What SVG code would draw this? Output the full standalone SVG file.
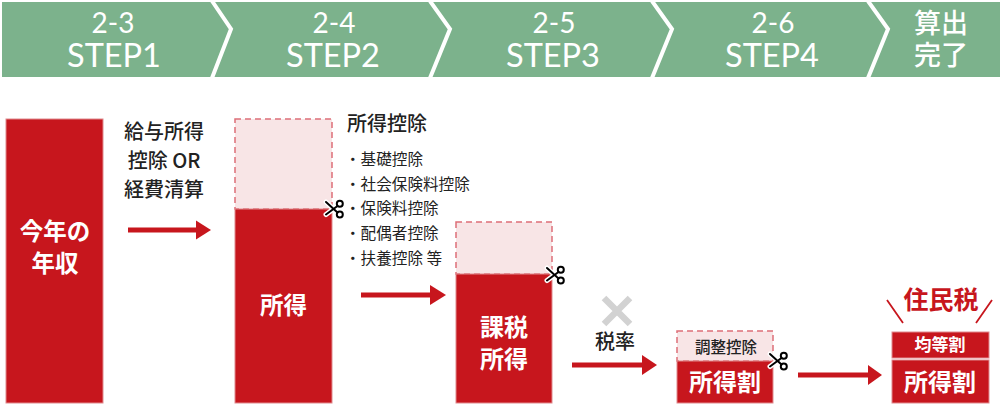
<svg xmlns="http://www.w3.org/2000/svg" width="1000" height="404" viewBox="0 0 1000 404">
  <style>
    text { font-family: "Noto Sans CJK JP", "Noto Sans", sans-serif; }
    .num { font-family: "Lato", sans-serif; font-size: 28px; fill: #fff; text-anchor: middle; }
    .step { font-family: "Lato", sans-serif; font-size: 32.500px; fill: #fff; text-anchor: middle; }
    .stepj { font-size: 27px; font-weight: 500; fill: #fff; text-anchor: middle; }
    .lab { font-size: 20px; fill: #222; text-anchor: middle; font-weight: 500; }
    .item { font-size: 15.6px; fill: #222; }
    .inv { font-weight: 700; fill: #fff; text-anchor: middle; }
    .red { fill: #c7161d; stroke: #e08a8e; stroke-width: 1; }
    .pale { fill: #f8e5e6; stroke: #dd6f78; stroke-width: 1.5; stroke-dasharray: 6 4; }
    .chev { fill: none; stroke: #fff; stroke-width: 4; }
    .link { stroke: #c7161d; stroke-width: 5; fill: none; }
    .head { fill: #c7161d; }
  </style>
  <defs>
    <!-- scissors: two blades crossing at the pivot, handles on the right -->
    <g id="scissors">
      <g fill="none" stroke="#fff" stroke-width="5" stroke-linecap="round">
        <path d="M-7 5.500L4.500 -3M-7 -7L4.500 3.500" />
        <circle cx="6.800" cy="-5.200" r="3" />
        <circle cx="6.800" cy="5.600" r="3" />
      </g>
      <g fill="none" stroke="#000" stroke-width="2" stroke-linecap="round">
        <path d="M-7 5.500L4.500 -3M-7 -7L4.500 3.500" />
        <circle cx="6.800" cy="-5.200" r="3" />
        <circle cx="6.800" cy="5.600" r="3" />
      </g>
    </g>
  </defs>

  <g id="step-banner">
    <rect x="2" y="2" width="998" height="75" fill="#7cb28c" />
    <path class="chev" d="M212 1L231 29L212 78" />
    <path class="chev" d="M430 1L450 29L430 78" />
    <path class="chev" d="M652 1L672 29L652 78" />
    <path class="chev" d="M868 1L888 29L868 78" />
    <text class="num" x="113" y="33">2-3</text>
    <text class="step" x="114" y="67">STEP1</text>
    <text class="num" x="334" y="33">2-4</text>
    <text class="step" x="333" y="67">STEP2</text>
    <text class="num" x="554" y="33">2-5</text>
    <text class="step" x="553" y="67">STEP3</text>
    <text class="num" x="773" y="33">2-6</text>
    <text class="step" x="772" y="67">STEP4</text>
    <text class="stepj" x="941" y="33">算出</text>
    <text class="stepj" x="941" y="65">完了</text>
  </g>

  <g id="income">
    <rect class="red" x="6" y="119" width="97" height="284" />
    <text class="inv" x="55" y="240" font-size="23.500">今年の</text>
    <text class="inv" x="55" y="272" font-size="23.500">年収</text>
  </g>

  <g id="deduction-label">
    <text class="lab" x="164" y="139">給与所得</text>
    <text class="lab" x="164" y="168">控除 OR</text>
    <text class="lab" x="164" y="197">経費清算</text>
  </g>

  <g id="shotoku">
    <rect class="pale" x="235" y="119" width="97" height="90" />
    <rect class="red" x="235" y="209" width="97" height="194" />
    <text class="inv" x="283.500" y="314" font-size="23.500">所得</text>
    <use href="#scissors" x="333" y="209" />
  </g>

  <g id="deduction-list">
    <text x="347" y="131" font-size="20" font-weight="500" fill="#222">所得控除</text>
    <text class="item" x="345" y="165">・基礎控除</text>
    <text class="item" x="345" y="190">・社会保険料控除</text>
    <text class="item" x="345" y="214">・保険料控除</text>
    <text class="item" x="345" y="239">・配偶者控除</text>
    <text class="item" x="345" y="264">・扶養控除 等</text>
  </g>

  <g id="kazei">
    <rect class="pale" x="456" y="222" width="96" height="52" />
    <rect class="red" x="456" y="274" width="96" height="129" />
    <text class="inv" x="504" y="336" font-size="24">課税</text>
    <text class="inv" x="504" y="368" font-size="24">所得</text>
    <use href="#scissors" x="554" y="275" />
  </g>

  <g id="tax-rate">
    <path d="M604 298L630 324M630 298L604 324" stroke="#d2d2d2" stroke-width="6.500" fill="none" />
    <text class="lab" x="615" y="349">税率</text>
  </g>

  <g id="shotokuwari">
    <rect class="pale" x="677" y="331" width="96" height="30" />
    <rect class="red" x="677" y="361" width="96" height="42" />
    <text x="726" y="353" font-size="15.500" font-weight="500" fill="#222" text-anchor="middle">調整控除</text>
    <text class="inv" x="725" y="391" font-size="24">所得割</text>
    <use href="#scissors" x="777" y="361" />
  </g>

  <g id="jumin-tax">
    <rect class="red" x="892" y="332" width="97" height="26" />
    <rect class="red" x="892" y="360" width="97" height="43" />
    <text class="inv" x="940" y="351" font-size="17">均等割</text>
    <text class="inv" x="940" y="391" font-size="24">所得割</text>
    <text x="941" y="309" font-size="25" font-weight="700" fill="#c7161d" text-anchor="middle">住民税</text>
    <path d="M887 300L903 323M992 300L976 323" stroke="#c7161d" stroke-width="1.800" fill="none" />
  </g>

  <g id="connectors">
    <path class="link" d="M128 230H198" />
    <path class="head" d="M196 220.500L211 230L196 239.500Z" />
    <path class="link" d="M361 295H432" />
    <path class="head" d="M430 285L446 295L430 305Z" />
    <path class="link" d="M572 365H644" />
    <path class="head" d="M642 355L657 365L642 375Z" />
    <path class="link" d="M798 375H870" />
    <path class="head" d="M868 365L882 375L868 385Z" />
  </g>
</svg>
